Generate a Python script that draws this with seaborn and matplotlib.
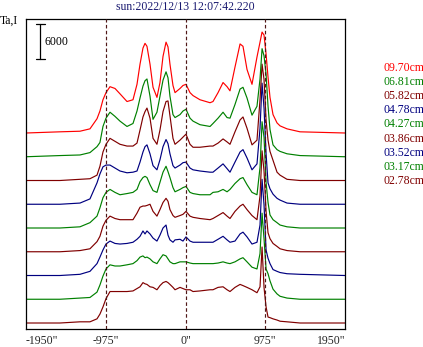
import matplotlib
matplotlib.use("Agg")
import matplotlib.pyplot as plt
import seaborn as sns
import pandas as pd

# ---------------- data ----------------
x_arcsec = [-1950, -1535, -1290, -1168, -1082, -1046, -1009, -972, -923, -862,
            -801, -715, -642, -593, -556, -520, -495, -471, -434, -397,
            -349, -312, -275, -238, -214, -190, -153, -128, -67, -31,
            6, 55, 92, 177, 300, 336, 398, 459, 508, 544,
            605, 667, 703, 752, 813, 874, 911, 936, 960, 985,
            1009, 1033, 1070, 1119, 1156, 1241, 1400, 1950]

# series ordered bottom -> top
series_labels = ["02.78cm", "03.17cm", "03.52cm", "03.86cm", "04.27cm",
                 "04.78cm", "05.82cm", "06.81cm", "09.70cm"]

ta_278 = [0, 0, 200, 200, 700, 1500, 2700, 4100, 5300, 5300,
          5300, 5300, 5400, 5800, 6100, 6800, 6600, 6500, 6100, 6000,
          5600, 6300, 6800, 7000, 6800, 6500, 6000, 5600, 6000, 5800,
          5600, 5600, 5300, 5400, 5600, 5600, 6000, 6100, 5600, 5300,
          6000, 6500, 6300, 6000, 5600, 5100, 6100, 12800, 6000, 2700,
          1000, 900, 700, 500, 300, 200, 0, 0]
ta_317 = [0, 0, 200, 300, 1200, 2400, 3900, 5100, 5800, 5600,
          5600, 5800, 6000, 6500, 7100, 7300, 7000, 7100, 6800, 6300,
          6000, 6800, 7500, 7300, 6800, 6300, 6000, 6000, 6300, 6300,
          6300, 6100, 6000, 6000, 6000, 6000, 6100, 6300, 6100, 6000,
          6300, 6800, 7000, 6300, 5400, 5100, 7700, 14500, 10200, 5100,
          4300, 3100, 1700, 900, 500, 200, 0, 0]
ta_352 = [0, 0, 200, 700, 2000, 3100, 4300, 5300, 5800, 5400,
          5300, 5400, 5600, 6100, 6600, 7500, 7000, 7500, 7000, 6300,
          5800, 6800, 8000, 8500, 6800, 6000, 5600, 6000, 6100, 5800,
          6500, 5800, 5600, 5600, 5600, 5600, 6100, 6600, 6000, 5600,
          5800, 7000, 7300, 6500, 5300, 5600, 8500, 16200, 11900, 4300,
          2900, 2000, 1000, 700, 500, 300, 200, 0]
ta_386 = [0, 0, 200, 500, 1700, 2600, 4300, 5300, 6000, 5600,
          5400, 5400, 5400, 6500, 7500, 7700, 7700, 7800, 8000, 6800,
          6000, 7100, 8300, 9000, 8500, 7100, 6100, 5800, 6100, 6300,
          6800, 6000, 5800, 5600, 5400, 5600, 6100, 6600, 6000, 5600,
          6800, 7700, 8000, 7100, 6100, 5400, 9400, 17000, 13600, 6800,
          3200, 2200, 1400, 900, 500, 200, 0, 0]
ta_427 = [0, 0, 200, 900, 2000, 3400, 5100, 6000, 6500, 6000,
          5600, 5800, 6000, 6500, 7800, 8500, 8700, 8500, 7300, 6300,
          6000, 7700, 9400, 10400, 9500, 8500, 6800, 6100, 6500, 6800,
          7000, 6000, 5800, 5600, 5600, 6000, 6100, 6500, 6100, 6500,
          7500, 8300, 8500, 7300, 6000, 5600, 10200, 17900, 15300, 7700,
          4300, 2200, 1400, 900, 500, 200, 0, 0]
ta_478 = [0, 0, 200, 900, 3600, 5100, 6300, 6600, 6600, 6100,
          5600, 5300, 5400, 5600, 7100, 8800, 9700, 10000, 8500, 6500,
          5800, 7500, 9700, 10900, 10200, 8500, 6500, 6100, 6600, 7000,
          7100, 6100, 5800, 5600, 5400, 5400, 6100, 6800, 6000, 5400,
          7100, 8800, 9200, 7800, 5800, 6800, 12800, 20400, 16200, 8500,
          3600, 2600, 1700, 1000, 700, 200, 0, 0]
ta_582 = [0, 0, 200, 300, 900, 2400, 4800, 6100, 7100, 6600,
          6100, 5800, 5800, 6300, 8500, 10700, 11600, 12200, 10500, 7100,
          6100, 8500, 11600, 13300, 13400, 10900, 7100, 6100, 6800, 7300,
          7800, 6100, 5600, 5600, 5800, 5800, 6300, 7000, 6500, 6100,
          8200, 10200, 10700, 8800, 6000, 6800, 13600, 19600, 17000, 10200,
          6800, 4900, 3400, 1400, 900, 200, 0, 0]
ta_681 = [0, 200, 300, 700, 1700, 2400, 5100, 6500, 7500, 6800,
          6000, 5100, 5600, 7700, 9900, 11900, 12800, 13100, 10200, 6300,
          7500, 10200, 12900, 14300, 13300, 10200, 7100, 6600, 7100, 7700,
          8000, 6500, 6000, 5400, 5100, 5600, 6500, 7500, 6600, 6500,
          8800, 11400, 11700, 9900, 7000, 8500, 13100, 18200, 17000, 13900,
          8500, 4600, 2000, 1200, 900, 500, 200, 0]
ta_970 = [0, 200, 300, 700, 2400, 3700, 5600, 6800, 7800, 7500,
          6600, 5300, 5600, 8200, 11600, 14300, 15100, 14600, 11600, 7700,
          6000, 8500, 12900, 15300, 14500, 11600, 8000, 6800, 7500, 8000,
          8200, 6800, 6300, 5600, 5100, 5300, 6800, 8500, 7800, 7100,
          11100, 15000, 14600, 10700, 8200, 12800, 15300, 17000, 16500, 13300,
          9400, 6000, 3100, 1700, 1200, 700, 200, 0]

series_values = [ta_278, ta_317, ta_352, ta_386, ta_427,
                 ta_478, ta_582, ta_681, ta_970]
series_colors = ["#800000", "#008000", "#000080", "#800000", "#008000",
                 "#000080", "#800000", "#008000", "#ff0000"]
offset_step = 4000

tick_values = [-1950, -975, 0, 975, 1950]
tick_labels = ['-1950"', '-975"', '0"', '975"', '1950"']
guide_lines = [-975, 0, 975]
scale_bar_value = 6000
title_text = "sun:2022/12/13 12:07:42.220"
ylabel_text = "Ta,I"

# ---------------- long-form table ----------------
rows = []
for i, (lab, vals) in enumerate(zip(series_labels, series_values)):
    for xv, yv in zip(x_arcsec, vals):
        rows.append({"x": xv, "y": yv + i * offset_step, "series": lab})
df = pd.DataFrame(rows)
palette = dict(zip(series_labels, series_colors))

# ---------------- figure ----------------
sns.set_style("white")
plt.rcParams["font.family"] = ["Liberation Serif", "DejaVu Serif"]

W, H = 423, 347
fig = plt.figure(figsize=(W / 100, H / 100), dpi=100)
ax = fig.add_axes([26 / W, 18 / H, 319 / W, 310 / H])

sns.lineplot(data=df, x="x", y="y", hue="series", palette=palette,
             estimator=None, sort=False, legend=False, linewidth=0.85, ax=ax)

for g in guide_lines:
    ax.axvline(g, color="#501818", linestyle=(0, (3, 2)), linewidth=0.85, zorder=5)

ax.set_xlim(-1950, 1950)
ax.set_ylim(-1010, 51200)
ax.set_xlabel("")
ax.set_ylabel("")
ax.set_yticks([])
ax.set_xticks(tick_values)
ax.set_xticklabels(tick_labels, fontsize=8.5)
labs = ax.get_xticklabels()
labs[0].set_ha("left")
labs[-1].set_ha("right")
ax.tick_params(axis="x", length=0, pad=4)
for s in ax.spines.values():
    s.set_color("black")
    s.set_linewidth(0.9)

# scale bar
bar_x = -1773
bar_top = 50400
bar_bot = bar_top - scale_bar_value
ax.plot([bar_x, bar_x], [bar_bot, bar_top], color="black", lw=0.9)
ax.plot([bar_x - 55, bar_x + 55], [bar_top, bar_top], color="black", lw=0.9)
ax.plot([bar_x - 55, bar_x + 55], [bar_bot, bar_bot], color="black", lw=0.9)
ax.text(bar_x + 55, (bar_top + bar_bot) / 2, str(scale_bar_value),
        fontsize=8.5, ha="left", va="center", color="black")

# title and y label
fig.text((26 + 345) / 2 / W, 1 - 7 / H, title_text, ha="center", va="center",
         fontsize=8.5, color="#1a1a70")
fig.text(0 / W, 1 - 21 / H, ylabel_text, ha="left", va="center",
         fontsize=8.5, color="black")

# legend-like labels (top -> bottom)
for k, (lab, col) in enumerate(zip(series_labels[::-1], series_colors[::-1])):
    fig.text(383 / W, 1 - (68 + 14.1 * k) / H, lab, ha="left", va="center",
             fontsize=8.5, color=col)

fig.savefig("out.png", dpi=100)
